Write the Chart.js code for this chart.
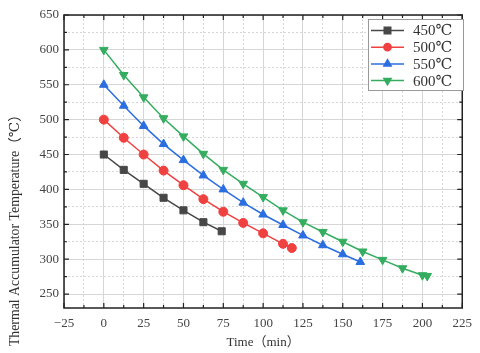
<!DOCTYPE html>
<html>
<head>
<meta charset="utf-8">
<script src="https://cdn.jsdelivr.net/npm/chart.js@4.4.1/dist/chart.umd.min.js"></script>
<style>
  html, body { margin: 0; padding: 0; background: #fff; }
  #wrap { width: 480px; height: 353px; }
</style>
</head>
<body>
<div id="wrap"><canvas id="c"></canvas></div>
<script>
// values
const t450 = [0, 12.5, 25, 37.5, 50, 62.5, 74];
const T450 = [450, 428, 408, 388, 370, 353, 340];

const t500 = [0, 12.5, 25, 37.5, 50, 62.5, 75, 87.5, 100, 112.5, 118];
const T500 = [500, 474, 450, 427, 406, 386, 368, 352, 337, 322, 316];

const t550 = [0, 12.5, 25, 37.5, 50, 62.5, 75, 87.5, 100, 112.5, 125, 137.5, 150, 161];
const T550 = [550, 520, 491, 465, 442, 420, 400, 381, 364, 349, 334, 320, 307, 296];

const t600 = [0, 12.5, 25, 37.5, 50, 62.5, 75, 87.5, 100, 112.5, 125, 137.5, 150, 162.5, 175, 187.5, 200, 203];
const T600 = [600, 564, 532, 502, 476, 451, 428, 408, 389, 370, 353, 339, 325, 311, 299, 287, 277, 276];

const seriesNames = ['450℃', '500℃', '550℃', '600℃'];
const xTicks = [-25, 0, 25, 50, 75, 100, 125, 150, 175, 200, 225];
const yTicks = [250, 300, 350, 400, 450, 500, 550, 600, 650];

const SERIF = "'Liberation Serif', 'DejaVu Serif', 'Noto Sans CJK SC', serif";

function pts(xs, ys) {
    return xs.map((x, i) => ({ x: x, y: ys[i] }));
}

// major ticks plus the half steps between them
function withMinor(major) {
    const out = [];
    major.forEach((v, i) => {
        out.push(v);
        if (i < major.length - 1) out.push((v + major[i + 1]) / 2);
    });
    return out;
}

const styles = [
    { color: '#474747', point: 'rect', radius: 5, rot: 0, legR: 4.6 },
    { color: '#f04141', point: 'circle', radius: 4.5, rot: 0, legR: 3.6 },
    { color: '#2a6ee0', point: 'triangle', radius: 5, rot: 0, legR: 4.2 },
    { color: '#35ad5f', point: 'triangle', radius: 5, rot: 180, legR: 4.2 }
];

const frameTicksPlugin = {
    id: 'frameTicks',
    afterDatasetsDraw(chart) {
        const { ctx, chartArea: a, scales } = chart;
        ctx.save();
        ctx.strokeStyle = '#222';
        ctx.lineWidth = 1.5;
        ctx.strokeRect(a.left, a.top, a.right - a.left, a.bottom - a.top);
        ctx.lineWidth = 1.2;
        ctx.beginPath();
        scales.x.ticks.forEach(t => {
            const x = scales.x.getPixelForValue(t.value);
            const len = xTicks.includes(t.value) ? 5 : 3;
            ctx.moveTo(x, a.bottom); ctx.lineTo(x, a.bottom - len);
            ctx.moveTo(x, a.top); ctx.lineTo(x, a.top + len);
        });
        scales.y.ticks.forEach(t => {
            const y = scales.y.getPixelForValue(t.value);
            const len = yTicks.includes(t.value) ? 5 : 3;
            ctx.moveTo(a.left, y); ctx.lineTo(a.left + len, y);
            ctx.moveTo(a.right, y); ctx.lineTo(a.right - len, y);
        });
        ctx.stroke();

        // rotated y title
        ctx.fillStyle = '#333';
        ctx.font = '13.8px ' + SERIF;
        ctx.textAlign = 'center';
        ctx.textBaseline = 'middle';
        ctx.translate(15, 227);
        ctx.rotate(-Math.PI / 2);
        ctx.fillText('Thermal Accumulator Temperature（℃）', 0, 0);
        ctx.restore();
    }
};

const boxLegendPlugin = {
    id: 'boxLegend',
    afterDraw(chart) {
        const { ctx } = chart;
        const left = 368, top = 19, w = 95, h = 71;
        ctx.save();
        ctx.fillStyle = '#fff';
        ctx.fillRect(left, top, w, h);
        ctx.strokeStyle = '#999';
        ctx.lineWidth = 1;
        ctx.strokeRect(left + 0.5, top + 0.5, w, h);
        ctx.font = '15px ' + SERIF;
        ctx.textBaseline = 'middle';
        ctx.textAlign = 'left';
        chart.data.datasets.forEach((ds, i) => {
            const y = 30.5 + i * 16.7;
            const s = styles[i];
            ctx.strokeStyle = s.color;
            ctx.lineWidth = 1.5;
            ctx.beginPath();
            ctx.moveTo(371, y); ctx.lineTo(404, y);
            ctx.stroke();
            ctx.fillStyle = s.color;
            Chart.helpers.drawPoint(ctx, {
                pointStyle: s.point, radius: s.legR, rotation: s.rot, borderWidth: 1
            }, 387.5, y);
            ctx.fillStyle = '#333';
            ctx.fillText(ds.label, 413, y + 1);
        });
        ctx.restore();
    }
};

const allSeries = [pts(t450, T450), pts(t500, T500), pts(t550, T550), pts(t600, T600)];

new Chart(document.getElementById('c'), {
    type: 'line',
    data: {
        datasets: allSeries.map((d, i) => ({
            label: seriesNames[i],
            data: d,
            borderColor: styles[i].color,
            backgroundColor: styles[i].color,
            borderWidth: 1.5,
            pointStyle: styles[i].point,
            pointRadius: styles[i].radius,
            pointRotation: styles[i].rot,
            pointBorderWidth: 1,
            tension: 0
        }))
    },
    options: {
        responsive: true,
        maintainAspectRatio: false,
        animation: false,
        devicePixelRatio: 1,
        layout: { padding: { top: 15, right: 15, left: 0, bottom: 0 } },
        plugins: {
            legend: { display: false },
            tooltip: { enabled: false }
        },
        scales: {
            x: {
                type: 'linear',
                min: -25,
                max: 225,
                afterBuildTicks: s => { s.ticks = withMinor(xTicks).map(v => ({ value: v })); },
                afterFit: s => { s.height = 45; },
                border: {
                    display: false,
                    dash: c => (c.tick && !xTicks.includes(c.tick.value)) ? [2, 2] : []
                },
                grid: {
                    drawTicks: false,
                    color: '#d6d6d6'
                },
                ticks: {
                    autoSkip: false,
                    maxRotation: 0,
                    padding: 8,
                    color: '#444',
                    font: { family: SERIF, size: 13 },
                    callback: v => xTicks.includes(v) ? (v < 0 ? '−' + Math.abs(v) : String(v)) : ''
                },
                title: {
                    display: true,
                    text: 'Time（min）',
                    color: '#333',
                    font: { family: SERIF, size: 13 },
                    padding: { top: 0, bottom: 3 }
                }
            },
            y: {
                type: 'linear',
                min: 230,
                max: 650,
                afterBuildTicks: s => { s.ticks = withMinor(yTicks).map(v => ({ value: v })); },
                afterFit: s => { s.width = 64; },
                border: {
                    display: false,
                    dash: c => (c.tick && !yTicks.includes(c.tick.value)) ? [2, 2] : []
                },
                grid: {
                    drawTicks: false,
                    color: '#d6d6d6'
                },
                ticks: {
                    autoSkip: false,
                    padding: 5,
                    color: '#444',
                    font: { family: SERIF, size: 13 },
                    callback: v => yTicks.includes(v) ? String(v) : ''
                }
            }
        }
    },
    plugins: [frameTicksPlugin, boxLegendPlugin]
});
</script>
</body>
</html>
